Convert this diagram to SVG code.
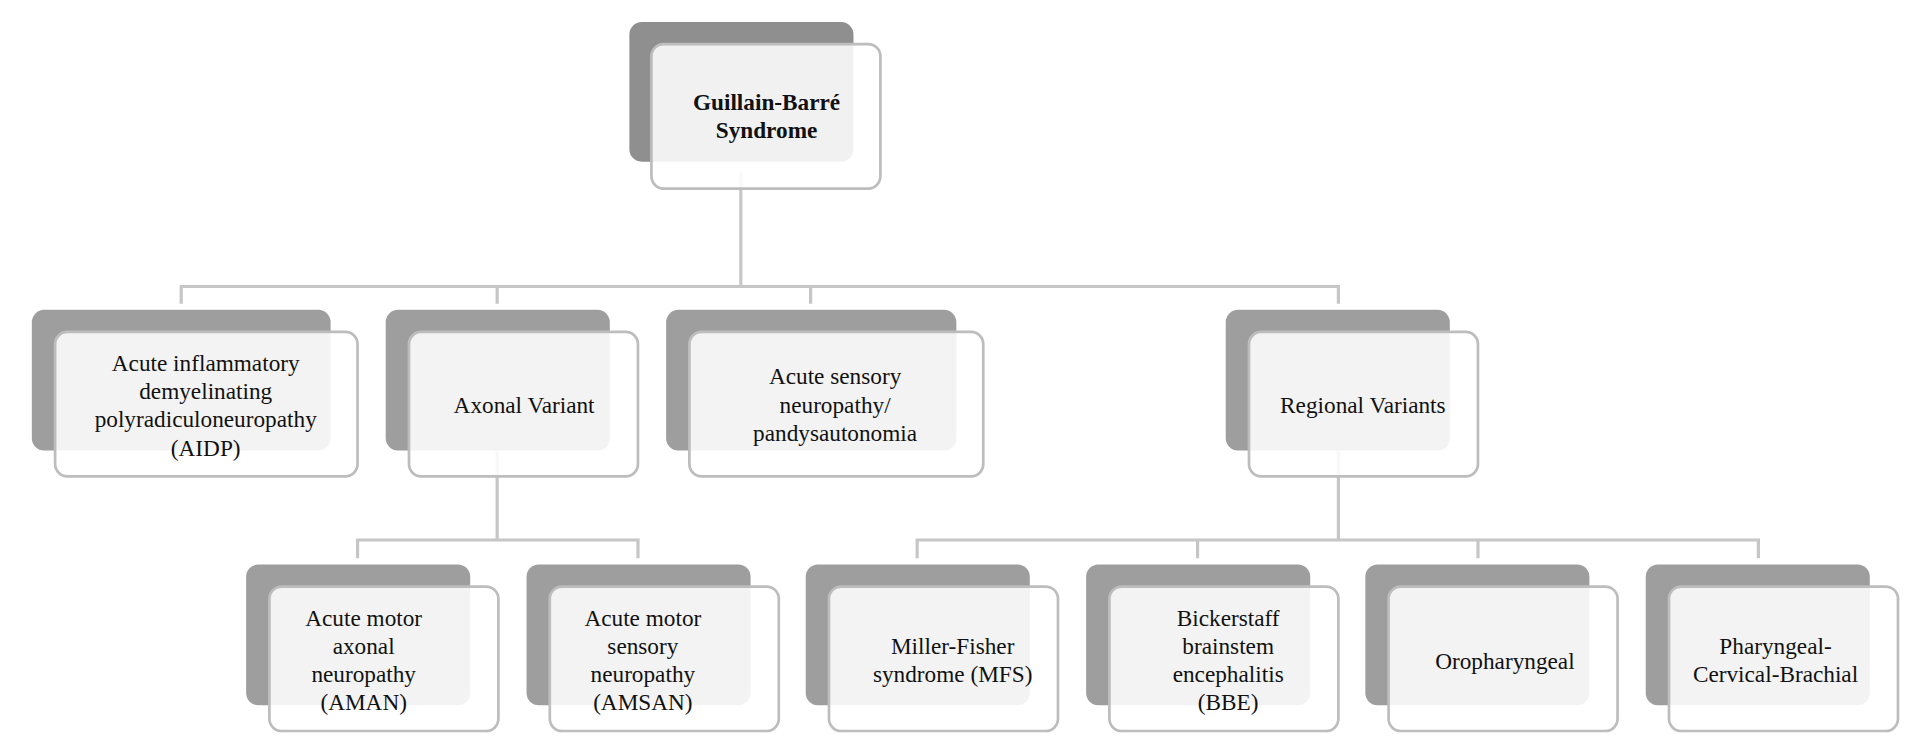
<svg xmlns="http://www.w3.org/2000/svg" width="1920" height="754" viewBox="0 0 1920 754">
<style>
.d{fill:#9e9e9e}
.l{fill:#ffffff;fill-opacity:0.88;stroke:#bdbdbd;stroke-width:2.2}
.c{fill:none;stroke:#c6c6c6;stroke-width:2.6}
text{font-family:"Liberation Serif","Times New Roman",serif;font-size:19px;fill:#111;text-anchor:middle}
</style>
<rect width="1920" height="754" fill="#fff"/>
<g transform="scale(1.2245)">
<g id="connectors" class="c">
<path d="M605 140V234M148 248V234H1093V248M406 234V248M662 234V248"/>
<path d="M406 368V441M292 456V441H521V456"/>
<path d="M1093 368V441M749 456V441H1436V456M978 441V456M1207 441V456"/>
</g>
<g id="root"><rect class="d" style="fill:#8f8f8f" x="514" y="18" width="183" height="114" rx="10"/><rect class="l" x="532" y="36" width="187" height="118" rx="10"/>
<text font-weight="bold"><tspan x="626" y="90">Guillain-Barré</tspan><tspan x="626" y="113">Syndrome</tspan></text></g>
<g id="aidp"><rect class="d" x="26" y="253" width="244" height="115" rx="10"/><rect class="l" x="45" y="271" width="247" height="118" rx="10"/>
<text><tspan x="168" y="303">Acute inflammatory</tspan><tspan x="168" y="326">demyelinating</tspan><tspan x="168" y="349">polyradiculoneuropathy</tspan><tspan x="168" y="372">(AIDP)</tspan></text></g>
<g id="axonal"><rect class="d" x="315" y="253" width="183" height="115" rx="10"/><rect class="l" x="334" y="271" width="187" height="118" rx="10"/>
<text x="428" y="337">Axonal Variant</text></g>
<g id="asn"><rect class="d" x="544" y="253" width="237" height="115" rx="10"/><rect class="l" x="563" y="271" width="240" height="118" rx="10"/>
<text><tspan x="682" y="314">Acute sensory</tspan><tspan x="682" y="337">neuropathy/</tspan><tspan x="682" y="360">pandysautonomia</tspan></text></g>
<g id="regional"><rect class="d" x="1001" y="253" width="183" height="115" rx="10"/><rect class="l" x="1020" y="271" width="187" height="118" rx="10"/>
<text x="1113" y="337">Regional Variants</text></g>
<g id="aman"><rect class="d" x="201" y="461" width="183" height="115" rx="10"/><rect class="l" x="220" y="479" width="187" height="118" rx="10"/>
<text><tspan x="297" y="511">Acute motor</tspan><tspan x="297" y="534">axonal</tspan><tspan x="297" y="557">neuropathy</tspan><tspan x="297" y="580">(AMAN)</tspan></text></g>
<g id="amsan"><rect class="d" x="430" y="461" width="183" height="115" rx="10"/><rect class="l" x="449" y="479" width="187" height="118" rx="10"/>
<text><tspan x="525" y="511">Acute motor</tspan><tspan x="525" y="534">sensory</tspan><tspan x="525" y="557">neuropathy</tspan><tspan x="525" y="580">(AMSAN)</tspan></text></g>
<g id="mfs"><rect class="d" x="658" y="461" width="183" height="115" rx="10"/><rect class="l" x="677" y="479" width="187" height="118" rx="10"/>
<text><tspan x="778" y="534">Miller-Fisher</tspan><tspan x="778" y="557">syndrome (MFS)</tspan></text></g>
<g id="bbe"><rect class="d" x="887" y="461" width="183" height="115" rx="10"/><rect class="l" x="906" y="479" width="187" height="118" rx="10"/>
<text><tspan x="1003" y="511">Bickerstaff</tspan><tspan x="1003" y="534">brainstem</tspan><tspan x="1003" y="557">encephalitis</tspan><tspan x="1003" y="580">(BBE)</tspan></text></g>
<g id="oro"><rect class="d" x="1115" y="461" width="183" height="115" rx="10"/><rect class="l" x="1134" y="479" width="187" height="118" rx="10"/>
<text x="1229" y="546">Oropharyngeal</text></g>
<g id="pcb"><rect class="d" x="1344" y="461" width="183" height="115" rx="10"/><rect class="l" x="1363" y="479" width="187" height="118" rx="10"/>
<text><tspan x="1450" y="534">Pharyngeal-</tspan><tspan x="1450" y="557">Cervical-Brachial</tspan></text></g>
</g>
</svg>
